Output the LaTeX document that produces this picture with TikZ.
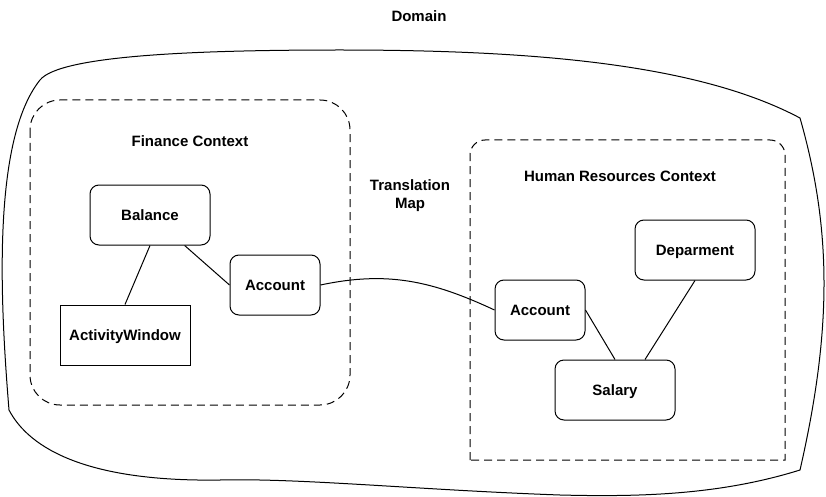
\documentclass[tikz,border=0pt]{standalone}
\usepackage{fontspec}
\setmainfont{Liberation Sans}
\begin{document}
\begin{tikzpicture}[x=1pt,y=-1pt,
  every node/.style={font=\fontsize{15}{18}\selectfont\bfseries},
  lbl/.style={inner sep=0pt, align=center},
  ent/.style={draw, line width=1pt, rounded corners=9pt, inner sep=0pt, minimum height=60pt, text height=11pt, text depth=0pt},
  sqent/.style={draw, line width=1pt, inner sep=0pt, minimum height=60pt, text height=11pt, text depth=0pt},
  ctx/.style={line width=1pt, dash pattern=on 8pt off 5pt},
  link/.style={line width=1pt}]
\useasboundingbox (0,0) rectangle (826,497);
% domain outline
\draw[line width=1pt] (40,80) .. controls (60,55) and (200,50) .. (340,50)
  .. controls (540,50) and (700,65) .. (800,118)
  .. controls (832,230) and (832,330) .. (800,470)
  .. controls (720,495) and (640,497) .. (560,495)
  .. controls (420,490) and (300,478) .. (220,480)
  .. controls (90,482) and (30,450) .. (9,410)
  .. controls (0,300) and (-8,140) .. (40,80) -- cycle;
\node[lbl] (domain) at (419,16) {Domain};
% finance context
\draw[ctx, rounded corners=30pt] (30,100) rectangle (350,405);
\node[lbl] (fin) at (190,141) {Finance Context};
% HR context
\draw[ctx] (470,460) -- (470,155) [rounded corners=15pt] -- (470,140) -- (785,140) [sharp corners] -- (785,460) -- cycle;
\node[lbl] (hr) at (620,176) {Human Resources Context};
\node[lbl] (tmap) at (410,196) {Translation\\Map};
% entities
\node[ent, minimum width=120pt] (bal) at (150,215) {Balance};
\node[ent, minimum width=90pt] (acc1) at (275,285) {Account};
\node[sqent, minimum width=130pt] (aw) at (125,335) {ActivityWindow};
\node[ent, minimum width=90pt] (acc2) at (540,310) {Account};
\node[ent, minimum width=120pt] (dep) at (695,250) {Deparment};
\node[ent, minimum width=120pt] (sal) at (615,390) {Salary};
% connectors
\draw[link] (bal.south) -- (aw.north);
\draw[link] (acc1.west) -- (bal);
\draw[link] (acc1.east) to[out=12,in=155] (acc2.west);
\draw[link] (acc2.east) -- (sal.north);
\draw[link] (dep.south) -- ([xshift=30pt]sal.north);
\end{tikzpicture}
\end{document}
